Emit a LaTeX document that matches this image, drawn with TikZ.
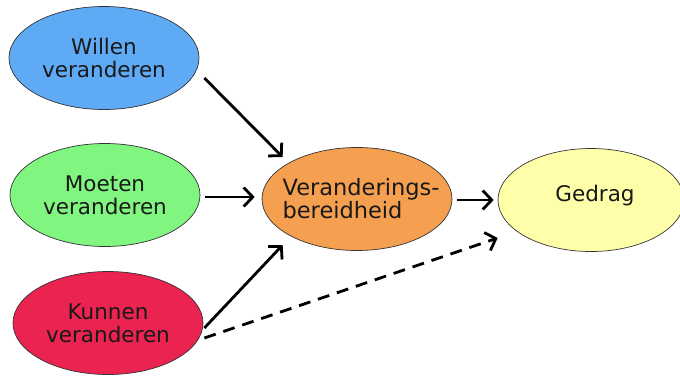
\documentclass[tikz,border=0pt]{standalone}
\usepackage{fontspec}
\setmainfont{DejaVu Sans}
\usetikzlibrary{shapes.geometric,arrows.meta}
\definecolor{cblue}{RGB}{95,170,245}
\definecolor{cgreen}{RGB}{128,245,128}
\definecolor{cred}{RGB}{235,35,80}
\definecolor{corange}{RGB}{245,160,80}
\definecolor{cyellow}{RGB}{255,255,170}
\definecolor{ctext}{RGB}{25,25,25}
\tikzset{
  oval/.style={ellipse, draw=black!80, line width=0.7pt, inner sep=0pt,
    minimum width=190pt, minimum height=103pt, text=ctext,
    font=\fontsize{21.5}{23}\selectfont},
  arr/.style={line width=2.8pt, -{Straight Barb[length=9pt,width=19pt,line width=2.8pt]}},
}
\begin{document}
\begin{tikzpicture}[x=1pt,y=-1pt]
\useasboundingbox (0,0) rectangle (680,376);
\clip (0,0) rectangle (680,376);
\node[oval, fill=cblue, align=center] (w) at (104,58) {Willen\\veranderen};
\node[oval, fill=cgreen, align=center] (m) at (105,195) {Moeten\\veranderen};
\node[oval, fill=cred, align=center] (k) at (108,323) {Kunnen\\veranderen};
\node[oval, fill=corange] (v) at (357,199) {};
\node[text=ctext, align=left, font=\fontsize{22.5}{23}\selectfont] (vt) at (361,199) {Veranderings-\\bereidheid};
\node[oval, fill=cyellow, minimum width=186pt] (g) at (591,200) {};
\node[text=ctext, font=\fontsize{21.5}{23}\selectfont] (gt) at (595,196) {Gedrag};
\draw[arr] ([shift={(5,20)}]w.east) -- ([shift={(21,-42)}]v.west);
\draw[arr] ([shift={(5,2)}]m.east) -- ([shift={(-7,-2)}]v.west);
\draw[arr] ([shift={(1,5)}]k.east) -- ([shift={(21,46)}]v.west);
\draw[arr] ([shift={(5,1)}]v.east) -- ([shift={(-4,0)}]g.west);
\draw[arr, dash pattern=on 12pt off 8pt] ([shift={(1,15)}]k.east) -- ([shift={(0,38)}]g.west);
\end{tikzpicture}
\end{document}
